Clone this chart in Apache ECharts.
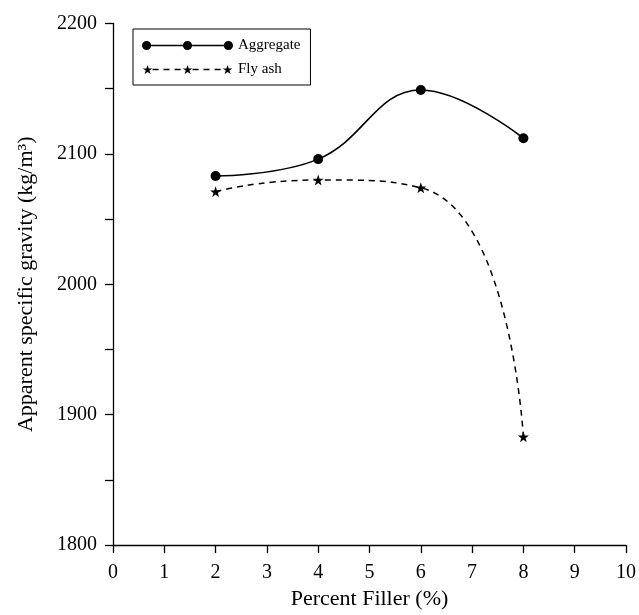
<!DOCTYPE html>
<html>
<head>
<meta charset="utf-8">
<script src="https://cdn.jsdelivr.net/npm/echarts@6/dist/echarts.min.js"></script>
<style>
  html, body { margin: 0; padding: 0; background: #fff; }
  #chart { width: 639px; height: 615px; }
</style>
</head>
<body>
<div id="chart"></div>
<script>
  // values
  var fillerPct = [2, 4, 6, 8];
  var aggregate = [2083, 2096, 2149, 2112];
  var flyAsh = [2071, 2080, 2074, 1883];
  var seriesNames = ['Aggregate', 'Fly ash'];

  var starPath = 'path://M50 0L61.8 35.1H98.6L68.8 56.8L80.2 91.9L50 70.2L19.8 91.9L31.2 56.8L1.4 35.1H38.2Z';

  // legend icons: line with three markers, like the original
  function circle(cx) {
    return 'M' + (cx - 4.5) + ' 5a4.5 4.5 0 1 1 9 0a4.5 4.5 0 1 1 -9 0Z';
  }
  function star(cx) {
    var s = 0.1, ox = cx - 5, oy = 0.4;
    var pts = [[50,0],[61.8,35.1],[98.6,35.1],[68.8,56.8],[80.2,91.9],[50,70.2],[19.8,91.9],[31.2,56.8],[1.4,35.1],[38.2,35.1]];
    return 'M' + pts.map(function (p) { return (ox + p[0] * s).toFixed(2) + ' ' + (oy + p[1] * s).toFixed(2); }).join('L') + 'Z';
  }
  function seg(x1, x2) {
    return 'M' + x1 + ' 4.3H' + x2 + 'V5.7H' + x1 + 'Z';
  }
  var aggIcon = 'path://' + circle(5) + circle(45) + circle(85) + seg(9.5, 40.5) + seg(49.5, 80.5);
  var flyIcon = 'path://' + star(5) + star(45) + star(85) + seg(10, 16) + seg(21, 27) + seg(32, 38) + seg(50, 56) + seg(61, 67) + seg(72, 78) + 'M0 0H0.01V10H0Z';

  function pairs(xs, ys) {
    return xs.map(function (x, i) { return [x, ys[i]]; });
  }

  var chart = echarts.init(document.getElementById('chart'));
  var font = 'Liberation Serif';
  chart.setOption({
    animation: false,
    backgroundColor: '#fff',
    textStyle: { fontFamily: font, color: '#000' },
    grid: { left: 113, right: 10, top: 23.5, bottom: 67.5 },
    legend: {
      orient: 'vertical',
      left: 133,
      top: 29,
      padding: [9, 10, 8, 9],
      itemGap: 9,
      itemWidth: 91,
      itemHeight: 10,
      borderColor: '#000',
      borderWidth: 1,
      textStyle: { fontFamily: font, fontSize: 15, color: '#000' },
      data: [
        { name: seriesNames[0], icon: aggIcon },
        { name: seriesNames[1], icon: flyIcon }
      ]
    },
    xAxis: {
      type: 'value',
      min: 0,
      max: 10,
      interval: 1,
      name: 'Percent Filler (%)',
      nameLocation: 'middle',
      nameGap: 42,
      nameTextStyle: { fontFamily: font, fontSize: 22, color: '#000' },
      axisLine: { onZero: false, lineStyle: { color: '#000', width: 1.3 } },
      axisTick: { length: 8, lineStyle: { color: '#000', width: 1.3 } },
      axisLabel: { margin: 18, fontFamily: font, fontSize: 20, color: '#000' },
      splitLine: { show: false }
    },
    yAxis: {
      type: 'value',
      min: 1800,
      max: 2200,
      interval: 50,
      name: 'Apparent specific gravity (kg/m³)',
      nameLocation: 'middle',
      nameGap: 76,
      nameTextStyle: { fontFamily: font, fontSize: 22, color: '#000' },
      axisLine: { show: true, lineStyle: { color: '#000', width: 1.3 } },
      axisTick: { length: 8, lineStyle: { color: '#000', width: 1.3 } },
      axisLabel: {
        margin: 16,
        fontFamily: font,
        fontSize: 20,
        color: '#000',
        formatter: function (v) { return v % 100 === 0 ? String(v) : ''; }
      },
      splitLine: { show: false }
    },
    series: [
      {
        name: seriesNames[0],
        type: 'line',
        data: pairs(fillerPct, aggregate),
        smooth: 0.42,
        symbol: 'circle',
        symbolSize: 10,
        itemStyle: { color: '#000' },
        lineStyle: { color: '#000', width: 1.6 }
      },
      {
        name: seriesNames[1],
        type: 'line',
        data: pairs(fillerPct, flyAsh),
        smooth: 0.6,
        symbol: starPath,
        symbolSize: 11,
        itemStyle: { color: '#000' },
        lineStyle: { color: '#000', width: 1.5, type: [6, 5] }
      }
    ]
  });
</script>
</body>
</html>
